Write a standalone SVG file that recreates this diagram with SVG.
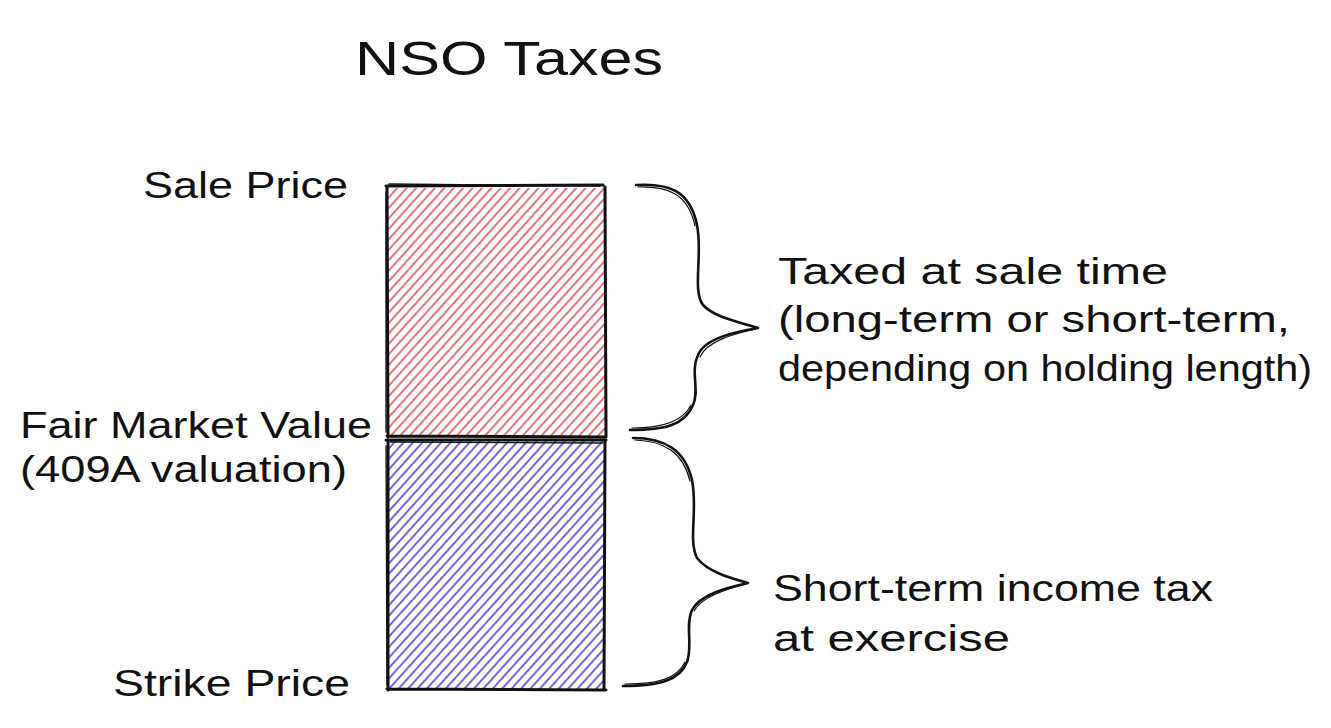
<svg xmlns="http://www.w3.org/2000/svg" width="1331" height="728" viewBox="0 0 1331 728">
  <style>
    .t { font-family: "Liberation Sans", Arial, sans-serif; font-size: 37px; fill: #111; }
    .title { font-size: 48px; }
    .edge { fill: none; stroke: #111; stroke-width: 3; stroke-linecap: round; stroke-linejoin: round; }
    .edge2 { fill: none; stroke: #111; stroke-width: 1.3; stroke-linecap: round; }
    .brace { fill: none; stroke: #111; stroke-width: 2.6; stroke-linecap: round; stroke-linejoin: round; }
    .brace2 { fill: none; stroke: #111; stroke-width: 1.2; stroke-linecap: round; }
  </style>
  <defs>
    <pattern id="hatchRed" patternUnits="userSpaceOnUse" width="7" height="10" patternTransform="rotate(42)">
      <line x1="1" y1="0" x2="1" y2="10" stroke="#e25c60" stroke-width="1.7"/>
    </pattern>
    <pattern id="hatchBlue" patternUnits="userSpaceOnUse" width="7" height="10" patternTransform="rotate(42)">
      <line x1="1" y1="0" x2="1" y2="10" stroke="#5f48dc" stroke-width="1.7"/>
    </pattern>
  </defs>
  <rect width="1331" height="728" fill="#ffffff"/>

  <g id="title">
    <text class="t title" x="355" y="75" textLength="308" lengthAdjust="spacingAndGlyphs">NSO Taxes</text>
  </g>

  <g id="box-upper">
    <rect x="388" y="188" width="217" height="248" fill="url(#hatchRed)"/>
    <path class="edge" d="M386,186 L603,185 M387,188 L388,437 M605,187 L606,436 M387,436 L606,437"/>
    <path class="edge2" d="M389,184 L600,186 M386,192 L386,432"/>
  </g>

  <g id="box-lower">
    <rect x="388" y="441" width="217" height="248" fill="url(#hatchBlue)"/>
    <path class="edge" d="M386,440 L606,440 M388,441 L388,690 M605,441 L604,690 M387,689 L606,690"/>
    <path class="edge2" d="M390,442 L603,443 M386,446 L387,685"/>
  </g>

  <g id="label-sale">
    <text class="t" x="143" y="198" textLength="205" lengthAdjust="spacingAndGlyphs">Sale Price</text>
  </g>
  <g id="label-fmv">
    <text class="t" x="20" y="438" textLength="352" lengthAdjust="spacingAndGlyphs">Fair Market Value</text>
    <text class="t" x="20" y="482" textLength="327" lengthAdjust="spacingAndGlyphs">(409A valuation)</text>
  </g>
  <g id="label-strike">
    <text class="t" x="113" y="696" textLength="237" lengthAdjust="spacingAndGlyphs">Strike Price</text>
  </g>

  <g id="connectors">
    <path class="brace" d="M636,185 C668,183 690,190 697,225 C703,255 692,290 703,305 C715,318 740,322 758,328 C735,332 705,338 698,355 C690,372 700,390 693,405 C685,425 665,430 630,430"/>
    <path class="brace2" d="M638,187 C667,186 688,193 695,226 M756,329 C733,334 707,341 700,357 M632,428 C662,428 683,422 691,405"/>
    <path class="brace" d="M633,438 C665,438 685,450 692,480 C698,510 688,540 697,558 C708,572 730,578 748,583 C725,588 700,595 692,610 C685,625 693,645 687,662 C680,680 660,686 623,686"/>
    <path class="brace2" d="M635,440 C664,441 683,452 690,481 M746,584 C724,590 702,597 694,611 M625,684 C658,684 677,679 685,662"/>
  </g>

  <g id="text-upper">
    <text class="t" x="778" y="284" textLength="390" lengthAdjust="spacingAndGlyphs">Taxed at sale time</text>
    <text class="t" x="778" y="332" textLength="512" lengthAdjust="spacingAndGlyphs">(long-term or short-term,</text>
    <text class="t" x="778" y="381" textLength="534" lengthAdjust="spacingAndGlyphs">depending on holding length)</text>
  </g>

  <g id="text-lower">
    <text class="t" x="773" y="601" textLength="440" lengthAdjust="spacingAndGlyphs">Short-term income tax</text>
    <text class="t" x="773" y="651" textLength="237" lengthAdjust="spacingAndGlyphs">at exercise</text>
  </g>
</svg>
